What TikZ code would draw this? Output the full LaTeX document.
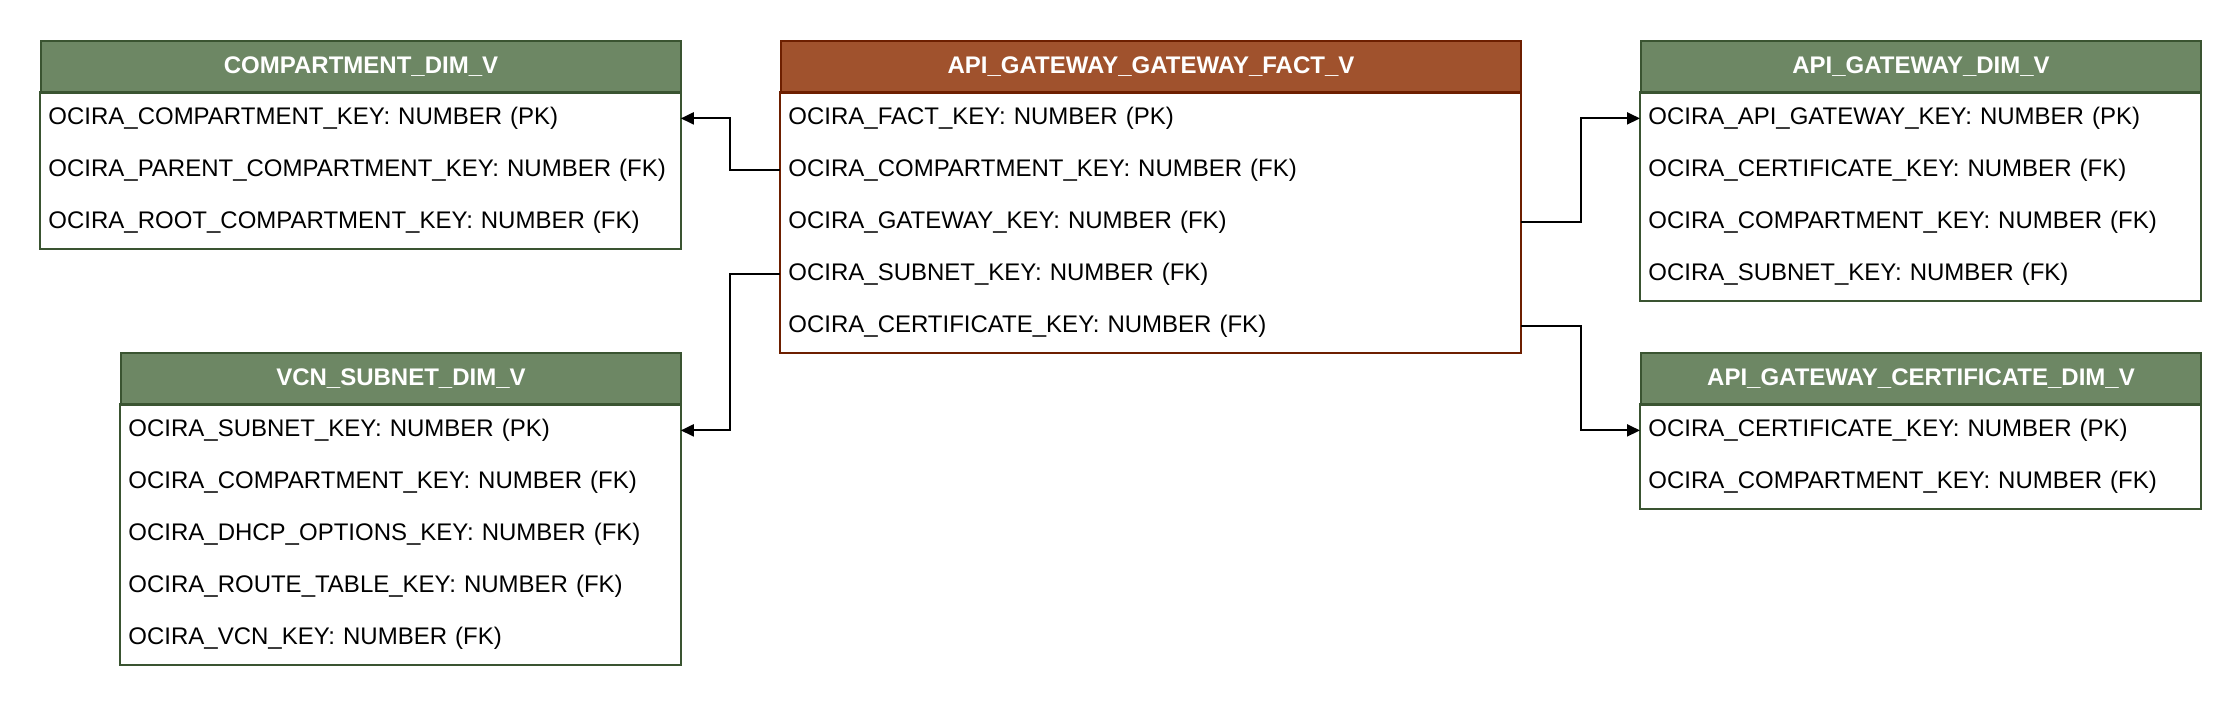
\documentclass[tikz,border=0pt]{standalone}
\usepackage{fontspec}
\setmainfont{Liberation Sans}
\usetikzlibrary{arrows.meta,fit}
\definecolor{hgreen}{HTML}{6D8764}
\definecolor{sgreen}{HTML}{3A5431}
\definecolor{hbrown}{HTML}{A0522D}
\definecolor{sbrown}{HTML}{6D1F00}
\begin{document}
\begin{tikzpicture}[x=0.5pt,y=-0.5pt,
  hdr/.style={draw, line width=1pt, minimum height=26pt,
    inner sep=0pt, anchor=north west, text=white,
    font=\bfseries\fontsize{12}{14}\selectfont},
  ghdr/.style={hdr, fill=hgreen, draw=sgreen},
  bhdr/.style={hdr, fill=hbrown, draw=sbrown},
  row/.style={anchor=north west, minimum height=26pt,
    inner ysep=0pt, inner xsep=4pt, align=left,
    font=\fontsize{12}{14}\selectfont},
  wS/.style={minimum width=280pt},
  wM/.style={minimum width=320pt},
  wL/.style={minimum width=370pt},
  rS/.style={row, text width=272pt},
  rM/.style={row, text width=312pt},
  rL/.style={row, text width=362pt},
  gbody/.style={draw=sgreen, line width=1pt, inner sep=0pt},
  bbody/.style={draw=sbrown, line width=1pt, inner sep=0pt},
  conn/.style={draw=black, line width=1pt, -{Triangle[length=6.5pt,width=6pt]}}
]
\useasboundingbox (0,0) rectangle (2240,704);

% COMPARTMENT_DIM_V
\node[ghdr, wM] (cmp-h) at (40,40) {COMPARTMENT\_DIM\_V};
\node[rM] (cmp-1) at (40,92) {OCIRA\_COMPARTMENT\_KEY: NUMBER (PK)};
\node[rM] (cmp-2) at (40,144) {OCIRA\_PARENT\_COMPARTMENT\_KEY: NUMBER (FK)};
\node[rM] (cmp-3) at (40,196) {OCIRA\_ROOT\_COMPARTMENT\_KEY: NUMBER (FK)};
\node[gbody, fit=(cmp-1)(cmp-3)] (cmp-b) {};

% API_GATEWAY_GATEWAY_FACT_V
\node[bhdr, wL] (fact-h) at (780,40) {API\_GATEWAY\_GATEWAY\_FACT\_V};
\node[rL] (fact-1) at (780,92) {OCIRA\_FACT\_KEY: NUMBER (PK)};
\node[rL] (fact-2) at (780,144) {OCIRA\_COMPARTMENT\_KEY: NUMBER (FK)};
\node[rL] (fact-3) at (780,196) {OCIRA\_GATEWAY\_KEY: NUMBER (FK)};
\node[rL] (fact-4) at (780,248) {OCIRA\_SUBNET\_KEY: NUMBER (FK)};
\node[rL] (fact-5) at (780,300) {OCIRA\_CERTIFICATE\_KEY: NUMBER (FK)};
\node[bbody, fit=(fact-1)(fact-5)] (fact-b) {};

% API_GATEWAY_DIM_V
\node[ghdr, wS] (agw-h) at (1640,40) {API\_GATEWAY\_DIM\_V};
\node[rS] (agw-1) at (1640,92) {OCIRA\_API\_GATEWAY\_KEY: NUMBER (PK)};
\node[rS] (agw-2) at (1640,144) {OCIRA\_CERTIFICATE\_KEY: NUMBER (FK)};
\node[rS] (agw-3) at (1640,196) {OCIRA\_COMPARTMENT\_KEY: NUMBER (FK)};
\node[rS] (agw-4) at (1640,248) {OCIRA\_SUBNET\_KEY: NUMBER (FK)};
\node[gbody, fit=(agw-1)(agw-4)] (agw-b) {};

% API_GATEWAY_CERTIFICATE_DIM_V
\node[ghdr, wS] (cert-h) at (1640,352) {API\_GATEWAY\_CERTIFICATE\_DIM\_V};
\node[rS] (cert-1) at (1640,404) {OCIRA\_CERTIFICATE\_KEY: NUMBER (PK)};
\node[rS] (cert-2) at (1640,456) {OCIRA\_COMPARTMENT\_KEY: NUMBER (FK)};
\node[gbody, fit=(cert-1)(cert-2)] (cert-b) {};

% VCN_SUBNET_DIM_V
\node[ghdr, wS] (vcn-h) at (120,352) {VCN\_SUBNET\_DIM\_V};
\node[rS] (vcn-1) at (120,404) {OCIRA\_SUBNET\_KEY: NUMBER (PK)};
\node[rS] (vcn-2) at (120,456) {OCIRA\_COMPARTMENT\_KEY: NUMBER (FK)};
\node[rS] (vcn-3) at (120,508) {OCIRA\_DHCP\_OPTIONS\_KEY: NUMBER (FK)};
\node[rS] (vcn-4) at (120,560) {OCIRA\_ROUTE\_TABLE\_KEY: NUMBER (FK)};
\node[rS] (vcn-5) at (120,612) {OCIRA\_VCN\_KEY: NUMBER (FK)};
\node[gbody, fit=(vcn-1)(vcn-5)] (vcn-b) {};

% connectors
\draw[conn] (fact-2.west) -- ++(-25pt,0) |- (cmp-1.east);
\draw[conn] (fact-4.west) -- ++(-25pt,0) |- (vcn-1.east);
\draw[conn] (fact-3.east) -- ++(30pt,0) |- (agw-1.west);
\draw[conn] (fact-5.east) -- ++(30pt,0) |- (cert-1.west);
\end{tikzpicture}
\end{document}
